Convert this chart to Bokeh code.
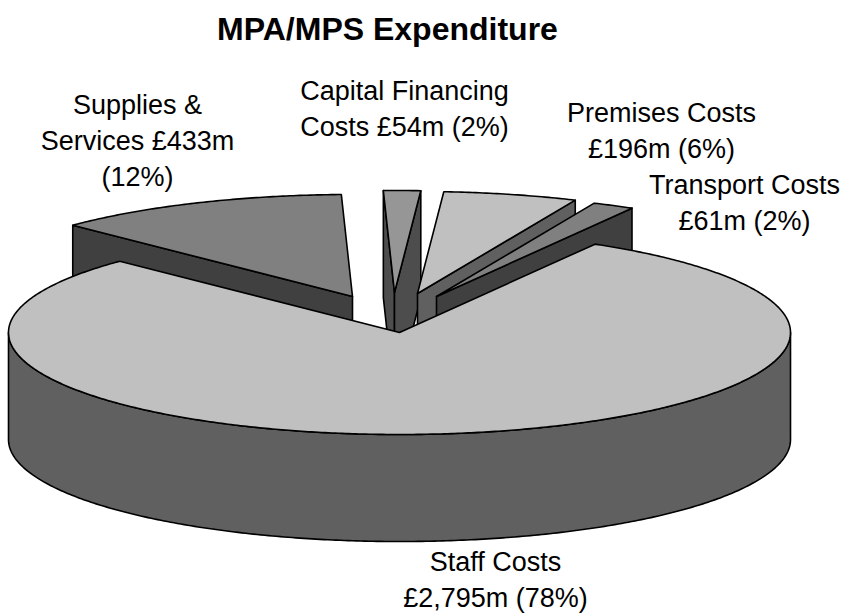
import numpy as np
from bokeh.plotting import figure
from bokeh.models import Range1d
from bokeh.core.properties import value
from bokeh.embed import file_html
from bokeh.resources import INLINE

# ---- data ----
categories = ["Staff Costs", "Supplies & Services", "Capital Financing Costs", "Premises Costs", "Transport Costs"]
spend_m = [2795, 433, 54, 196, 61]
title_text = "MPA/MPS Expenditure"
label_lines = [["Staff Costs", "£2,795m (78%)"],
               ["Supplies &", "Services £433m", "(12%)"],
               ["Capital Financing", "Costs £54m (2%)"],
               ["Premises Costs", "£196m (6%)"],
               ["Transport Costs", "£61m (2%)"]]

# ---- styling / layout ----
top_colors = ["#C0C0C0", "#808080", "#969696", "#C0C0C0", "#808080"]
side_colors = ["#606060", "#404040", "#4D4D4D", "#606060", "#404040"]
CX, CY, A, B, DEPTH = 399, 332, 391, 102, 107
START_DEG = 30.0
explode_dx = [0, -47, -5, 18, 37]
explode_dy = [0, -36, -40, -39, -36]
label_x = [495, 137, 404, 661, 744]
label_y = [561, 104, 90, 112, 184]
LINE_STEP = 36
LW = 1.6

p = figure(width=843, height=614, output_backend="svg", toolbar_location=None,
           x_range=Range1d(0, 843), y_range=Range1d(614, 0),
           min_border=0, outline_line_color=None)
p.axis.visible = False
p.grid.visible = False
p.background_fill_color = "white"
p.border_fill_color = "white"


def rim(t_deg, ox, oy):
    t = np.radians(t_deg)
    return ox + A * np.sin(t), oy - B * np.cos(t)


def poly(xs, ys, color):
    p.patch(list(xs), list(ys), fill_color=color, line_color="black",
            line_width=LW, line_join="round")


total = sum(spend_m)
spans = [v / total * 360 for v in spend_m]
starts = START_DEG + np.concatenate([[0], np.cumsum(spans)[:-1]])

# back-to-front: exploded slices first, the big slice last
for i in [1, 2, 3, 4, 0]:
    a0, a1 = starts[i], starts[i] + spans[i]
    ox, oy = CX + explode_dx[i], CY + explode_dy[i]
    n = max(int(spans[i] * 2), 8)
    ts = np.linspace(a0, a1, n)
    rx, ry = rim(ts, ox, oy)

    if i == 0:
        # curved outer wall: only the part that faces the viewer
        w = np.linspace(90, 270, 300)
        wx, wy = rim(w, ox, oy)
        poly(np.r_[wx, wx[::-1]], np.r_[wy, wy[::-1] + DEPTH], side_colors[i])
    else:
        # cut faces that look towards the viewer
        for a, sign in ((a0, -1), (a1, 1)):
            ex, ey = rim(a, ox, oy)
            dx, dy = ex - ox, ey - oy
            nx, ny = (-dy, dx) if sign > 0 else (dy, -dx)
            if ny > 0:
                poly([ox, ex, ex, ox], [oy, ey, ey + DEPTH, oy + DEPTH], side_colors[i])

    poly(np.r_[ox, rx], np.r_[oy, ry], top_colors[i])

# ---- texts ----
tx, ty, tt = [], [], []
for lines, x, y in zip(label_lines, label_x, label_y):
    for k, line in enumerate(lines):
        tx.append(x)
        ty.append(y + k * LINE_STEP)
        tt.append(line)
p.text(x=tx, y=ty, text=tt, text_font=value("Liberation Sans"), text_font_size="27px",
       text_color="black", text_align="center", text_baseline="middle")
p.text(x=[387], y=[28], text=[title_text], text_font=value("Liberation Sans"),
       text_font_size="32px", text_font_style="bold", text_color="black",
       text_align="center", text_baseline="middle")

open("out.html", "w").write(file_html(p, INLINE))
